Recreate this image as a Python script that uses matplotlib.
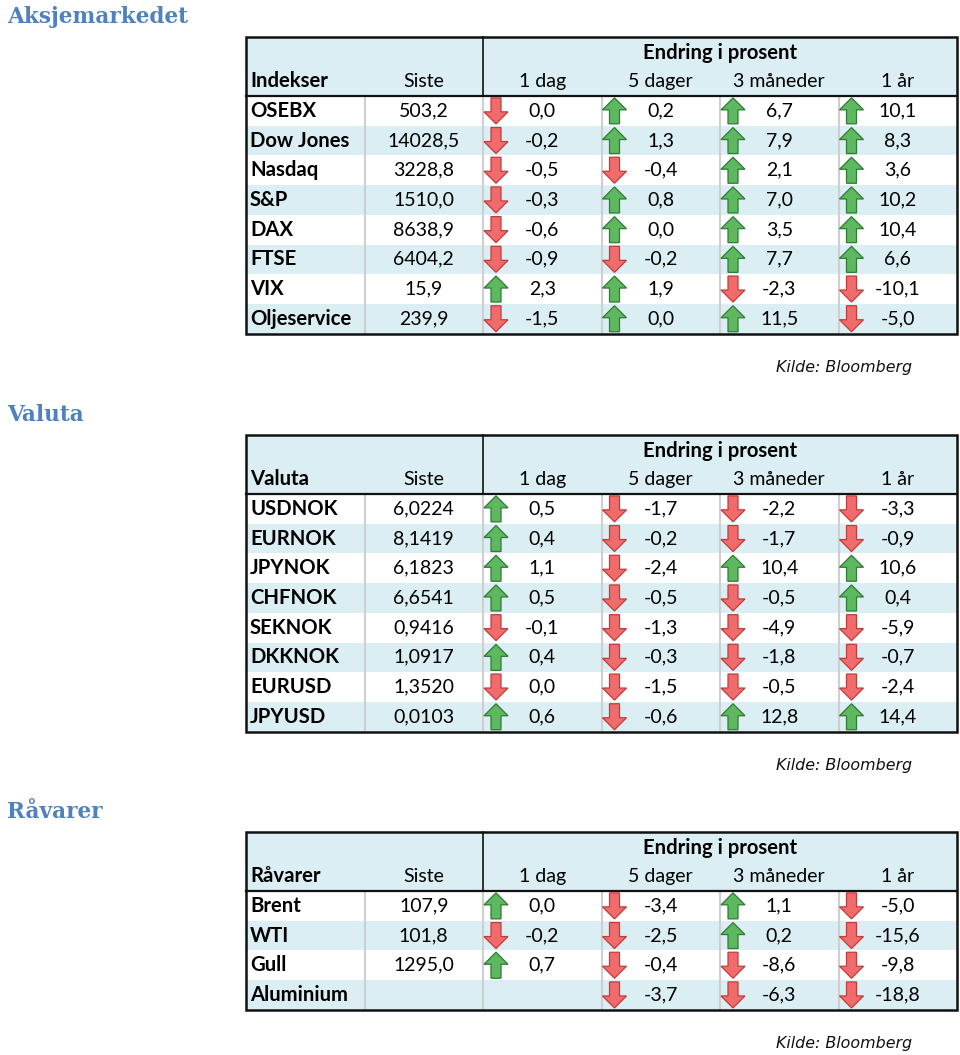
import matplotlib
matplotlib.use("Agg")
import matplotlib.pyplot as plt
from matplotlib.patches import Rectangle, Polygon

# ---------------- data ----------------
col_labels = ["Siste", "1 dag", "5 dager", "3 måneder", "1 år"]
group_label = "Endring i prosent"

idx_names = ["OSEBX", "Dow Jones", "Nasdaq", "S&P", "DAX", "FTSE", "VIX", "Oljeservice"]
idx_last = [503.2, 14028.5, 3228.8, 1510.0, 8638.9, 6404.2, 15.9, 239.9]
idx_1d = [0.0, -0.2, -0.5, -0.3, -0.6, -0.9, 2.3, -1.5]
idx_5d = [0.2, 1.3, -0.4, 0.8, 0.0, -0.2, 1.9, 0.0]
idx_3m = [6.7, 7.9, 2.1, 7.0, 3.5, 7.7, -2.3, 11.5]
idx_1y = [10.1, 8.3, 3.6, 10.2, 10.4, 6.6, -10.1, -5.0]
# arrow direction (+1 up / -1 down) as shown
idx_dir_1d = [-1, -1, -1, -1, -1, -1, 1, -1]
idx_dir_5d = [1, 1, -1, 1, 1, -1, 1, 1]
idx_dir_3m = [1, 1, 1, 1, 1, 1, -1, 1]
idx_dir_1y = [1, 1, 1, 1, 1, 1, -1, -1]

fx_names = ["USDNOK", "EURNOK", "JPYNOK", "CHFNOK", "SEKNOK", "DKKNOK", "EURUSD", "JPYUSD"]
fx_last = [6.0224, 8.1419, 6.1823, 6.6541, 0.9416, 1.0917, 1.3520, 0.0103]
fx_1d = [0.5, 0.4, 1.1, 0.5, -0.1, 0.4, 0.0, 0.6]
fx_5d = [-1.7, -0.2, -2.4, -0.5, -1.3, -0.3, -1.5, -0.6]
fx_3m = [-2.2, -1.7, 10.4, -0.5, -4.9, -1.8, -0.5, 12.8]
fx_1y = [-3.3, -0.9, 10.6, 0.4, -5.9, -0.7, -2.4, 14.4]
fx_dir_1d = [1, 1, 1, 1, -1, 1, -1, 1]
fx_dir_5d = [-1, -1, -1, -1, -1, -1, -1, -1]
fx_dir_3m = [-1, -1, 1, -1, -1, -1, -1, 1]
fx_dir_1y = [-1, -1, 1, 1, -1, -1, -1, 1]

cm_names = ["Brent", "WTI", "Gull", "Aluminium"]
cm_last = [107.9, 101.8, 1295.0, None]
cm_1d = [0.0, -0.2, 0.7, None]
cm_5d = [-3.4, -2.5, -0.4, -3.7]
cm_3m = [1.1, 0.2, -8.6, -6.3]
cm_1y = [-5.0, -15.6, -9.8, -18.8]
cm_dir_1d = [1, -1, 1, 0]
cm_dir_5d = [-1, -1, -1, -1]
cm_dir_3m = [1, 1, -1, -1]
cm_dir_1y = [-1, -1, -1, -1]

source = "Kilde: Bloomberg"

tables = [
    dict(title="Aksjemarkedet", first="Indekser", names=idx_names, last=idx_last, dec=1,
         changes=[idx_1d, idx_5d, idx_3m, idx_1y],
         dirs=[idx_dir_1d, idx_dir_5d, idx_dir_3m, idx_dir_1y], top=37),
    dict(title="Valuta", first="Valuta", names=fx_names, last=fx_last, dec=4,
         changes=[fx_1d, fx_5d, fx_3m, fx_1y],
         dirs=[fx_dir_1d, fx_dir_5d, fx_dir_3m, fx_dir_1y], top=435),
    dict(title="Råvarer", first="Råvarer", names=cm_names, last=cm_last, dec=1,
         changes=[cm_1d, cm_5d, cm_3m, cm_1y],
         dirs=[cm_dir_1d, cm_dir_5d, cm_dir_3m, cm_dir_1y], top=832),
]

# ---------------- style ----------------
W, H = 960, 1055
LEFT, RIGHT = 246, 957
NCOL = 6
COLW = (RIGHT - LEFT) / NCOL
HDR_H = 29.5
ROW_H = 29.7
BLUE = "#DAEEF3"
TITLE_C = "#4F81BD"
GRID_C = "#CFCFCF"
FONT = "Lato"
FS = 14.0
FSB = 14.6
UP_FACE, UP_EDGE = "#5DB860", "#2F7A34"
DN_FACE, DN_EDGE = "#F06C6C", "#C23B3B"

fig = plt.figure(figsize=(W / 100, H / 100), dpi=100)
ax = fig.add_axes([0, 0, 1, 1])
ax.set_xlim(0, W)
ax.set_ylim(H, 0)
ax.axis("off")


def fmt(v, dec):
    return f"{v:.{dec}f}".replace(".", ",")


def arrow(cx, cy, d):
    w, h, sw, hl = 24, 26, 10, 12
    if d > 0:
        pts = [(cx, cy - h / 2), (cx + w / 2, cy - h / 2 + hl), (cx + sw / 2, cy - h / 2 + hl),
               (cx + sw / 2, cy + h / 2), (cx - sw / 2, cy + h / 2), (cx - sw / 2, cy - h / 2 + hl),
               (cx - w / 2, cy - h / 2 + hl)]
        fc, ec = UP_FACE, UP_EDGE
    else:
        pts = [(cx, cy + h / 2), (cx + w / 2, cy + h / 2 - hl), (cx + sw / 2, cy + h / 2 - hl),
               (cx + sw / 2, cy - h / 2), (cx - sw / 2, cy - h / 2), (cx - sw / 2, cy + h / 2 - hl),
               (cx - w / 2, cy + h / 2 - hl)]
        fc, ec = DN_FACE, DN_EDGE
    ax.add_patch(Polygon(pts, closed=True, fc=fc, ec=ec, lw=0.9, zorder=4))


for t in tables:
    top = t["top"]
    n = len(t["names"])
    hdr_bot = top + 2 * HDR_H
    bot = hdr_bot + n * ROW_H
    # title
    ax.text(7, top - 20, t["title"], fontsize=15.6, fontweight="bold", family="DejaVu Serif",
            color=TITLE_C, ha="left", va="center")
    # header fill
    ax.add_patch(Rectangle((LEFT, top), RIGHT - LEFT, 2 * HDR_H, fc=BLUE, ec="none", zorder=1))
    # row fills
    for i in range(n):
        y0 = hdr_bot + i * ROW_H
        ax.add_patch(Rectangle((LEFT, y0), RIGHT - LEFT, ROW_H,
                               fc=(BLUE if i % 2 else "white"), ec="none", zorder=1))
    # grid lines in data area
    for c in range(1, NCOL):
        x = LEFT + c * COLW
        ax.plot([x, x], [hdr_bot, bot], color=GRID_C, lw=1.5, zorder=2)
    # header separator
    xsep = LEFT + 2 * COLW
    ax.plot([xsep, xsep], [top, hdr_bot], color="#222222", lw=1.3, zorder=3)
    ax.plot([LEFT, RIGHT], [hdr_bot, hdr_bot], color="#111111", lw=1.6, zorder=3)
    ax.add_patch(Rectangle((LEFT, top), RIGHT - LEFT, bot - top, fc="none",
                           ec="#111111", lw=1.8, zorder=5))
    # header text
    ax.text(LEFT + 4 * COLW, top + HDR_H / 2 + 1, group_label, fontsize=FSB, fontweight="bold",
            family=FONT, ha="center", va="center", zorder=6)
    ycl = top + HDR_H * 1.5
    ax.text(LEFT + 4, ycl, t["first"], fontsize=FSB, fontweight="bold", family=FONT,
            ha="left", va="center", zorder=6)
    for c, lab in enumerate(col_labels, start=1):
        ax.text(LEFT + (c + 0.5) * COLW, ycl, lab, fontsize=FS, family=FONT,
                ha="center", va="center", zorder=6)
    # rows
    for i, name in enumerate(t["names"]):
        yc = hdr_bot + (i + 0.5) * ROW_H
        ax.text(LEFT + 4, yc, name, fontsize=FSB, fontweight="bold", family=FONT,
                ha="left", va="center", zorder=6)
        if t["last"][i] is not None:
            ax.text(LEFT + 1.5 * COLW, yc, fmt(t["last"][i], t["dec"]), fontsize=FS,
                    family=FONT, ha="center", va="center", zorder=6)
        for k in range(4):
            v = t["changes"][k][i]
            if v is None:
                continue
            cx0 = LEFT + (k + 2) * COLW
            arrow(cx0 + 13, yc, t["dirs"][k][i])
            ax.text(cx0 + 0.5 * COLW, yc, fmt(v, 1), fontsize=FS, family=FONT,
                    ha="center", va="center", zorder=6)
    # source
    ax.text(912, bot + 34, source, fontsize=11.4, style="italic", family="DejaVu Sans",
            ha="right", va="center", color="#111111")

fig.savefig("out.png", dpi=100)
